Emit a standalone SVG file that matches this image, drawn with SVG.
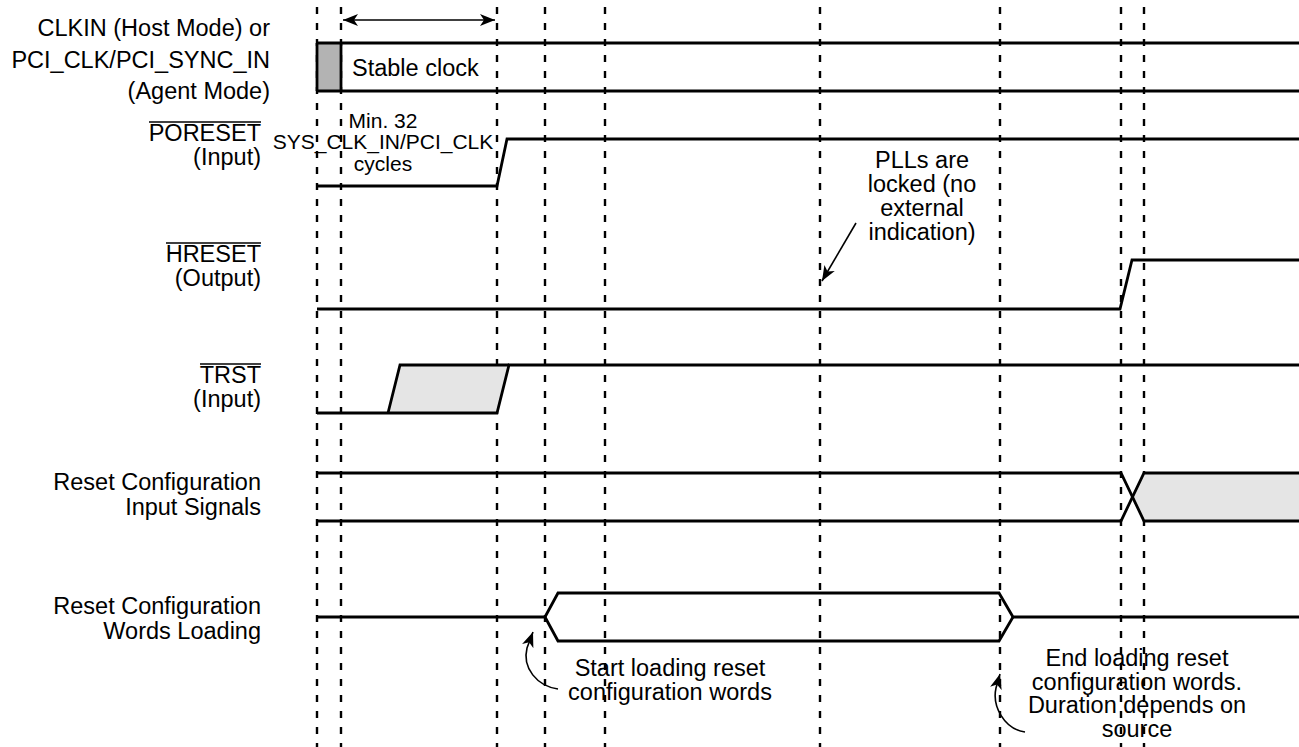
<svg xmlns="http://www.w3.org/2000/svg" width="1299" height="747" viewBox="0 0 1299 747">
<style>
text{font-family:"Liberation Sans",Arial,sans-serif;fill:#000}
.lbl{font-size:23.5px;text-anchor:end}
.ann{font-size:23.5px;text-anchor:middle}
.sm{font-size:21px;text-anchor:middle}
.sig{fill:none;stroke:#000;stroke-width:2.8;stroke-linejoin:miter}
.dash{fill:none;stroke:#000;stroke-width:2.4;stroke-dasharray:7 9}
.ov{stroke:#000;stroke-width:1.5}
.thin{fill:none;stroke:#000;stroke-width:1.6}
</style>
<defs>
<marker id="ah" markerWidth="16" markerHeight="12" refX="15" refY="6" orient="auto-start-reverse" markerUnits="userSpaceOnUse">
<path d="M0,0 L15,6 L0,12 L4,6 Z" fill="#000"/>
</marker>
</defs>
<rect width="1299" height="747" fill="#fff"/>
<g id="gridlines">
<line class="dash" x1="317" y1="7" x2="317" y2="747"/>
<line class="dash" x1="341" y1="7" x2="341" y2="747"/>
<line class="dash" x1="497" y1="7" x2="497" y2="747"/>
<line class="dash" x1="545" y1="7" x2="545" y2="747"/>
<line class="dash" x1="605" y1="7" x2="605" y2="747"/>
<line class="dash" x1="820" y1="7" x2="820" y2="747"/>
<line class="dash" x1="1000" y1="7" x2="1000" y2="747"/>
<line class="dash" x1="1121" y1="7" x2="1121" y2="747"/>
<line class="dash" x1="1144" y1="7" x2="1144" y2="747"/>
</g>
<g id="labels">
<text class="lbl" x="270" y="36">CLKIN (Host Mode) or</text>
<text class="lbl" x="270" y="68">PCI_CLK/PCI_SYNC_IN</text>
<text class="lbl" x="270" y="99">(Agent Mode)</text>
<text class="lbl" x="261" y="141">PORESET</text>
<line class="ov" x1="149" y1="122" x2="261" y2="122"/>
<text class="lbl" x="261" y="165">(Input)</text>
<text class="lbl" x="261" y="262">HRESET</text>
<line class="ov" x1="166" y1="243" x2="261" y2="243"/>
<text class="lbl" x="261" y="286">(Output)</text>
<text class="lbl" x="261" y="383">TRST</text>
<line class="ov" x1="200" y1="364" x2="261" y2="364"/>
<text class="lbl" x="261" y="407">(Input)</text>
<text class="lbl" x="261" y="490">Reset Configuration</text>
<text class="lbl" x="261" y="515">Input Signals</text>
<text class="lbl" x="261" y="614">Reset Configuration</text>
<text class="lbl" x="261" y="639">Words Loading</text>
</g>
<g id="clkin">
<rect x="317" y="43" width="24" height="48" fill="#b3b3b3"/>
<line class="sig" x1="317" y1="43" x2="1299" y2="43"/>
<line class="sig" x1="317" y1="91" x2="1299" y2="91"/>
<line class="sig" x1="317" y1="43" x2="317" y2="91"/>
<line class="sig" x1="341" y1="43" x2="341" y2="91"/>
<text x="352" y="76" style="font-size:23.5px">Stable clock</text>
</g>
<g id="poreset">
<polyline class="sig" points="317,186 497,186 507,139 1299,139"/>
<text class="sm" x="383" y="128">Min. 32</text>
<text class="sm" x="383" y="149">SYS_CLK_IN/PCI_CLK</text>
<text class="sm" x="383" y="171">cycles</text>
</g>
<g id="hreset">
<polyline class="sig" points="317,309 1120,309 1132,260 1299,260"/>
</g>
<g id="trst">
<polygon points="388,413 400,365 509,365 497,413" fill="#e5e5e5"/>
<polyline class="sig" points="317,413 497,413 509,365 1299,365"/>
<polyline class="sig" points="388,413 400,365 509,365"/>
</g>
<g id="rcis">
<polygon points="1132.5,497 1144,473 1299,473 1299,521 1144,521" fill="#e5e5e5"/>
<polyline class="sig" points="317,473 1121,473 1144,521 1299,521"/>
<polyline class="sig" points="317,521 1121,521 1144,473 1299,473"/>
</g>
<g id="rcwl">
<polyline class="sig" points="317,617 545,617 558,593 999,593 1013,617 1299,617"/>
<polyline class="sig" points="545,617 558,641 999,641 1013,617"/>
</g>
<g id="annotations">
<text class="ann" x="922" y="168">PLLs are</text>
<text class="ann" x="922" y="192">locked (no</text>
<text class="ann" x="922" y="216">external</text>
<text class="ann" x="922" y="240">indication)</text>
<text class="ann" x="670" y="676">Start loading reset</text>
<text class="ann" x="670" y="700">configuration words</text>
<text class="ann" x="1137" y="666">End loading reset</text>
<text class="ann" x="1137" y="690">configuration words.</text>
<text class="ann" x="1137" y="713">Duration depends on</text>
<text class="ann" x="1137" y="737">source</text>
</g>
<g id="connectors">
<line class="thin" x1="343" y1="20" x2="495" y2="20" marker-start="url(#ah)" marker-end="url(#ah)"/>
<line class="thin" x1="856" y1="223" x2="822" y2="281" marker-end="url(#ah)"/>
<path class="thin" d="M558,689 C537,686 522,668 527,648 L533,632" marker-end="url(#ah)"/>
<path class="thin" d="M1025,732 C1004,729 992,706 996,688 L1000,674" marker-end="url(#ah)"/>
</g>
</svg>
